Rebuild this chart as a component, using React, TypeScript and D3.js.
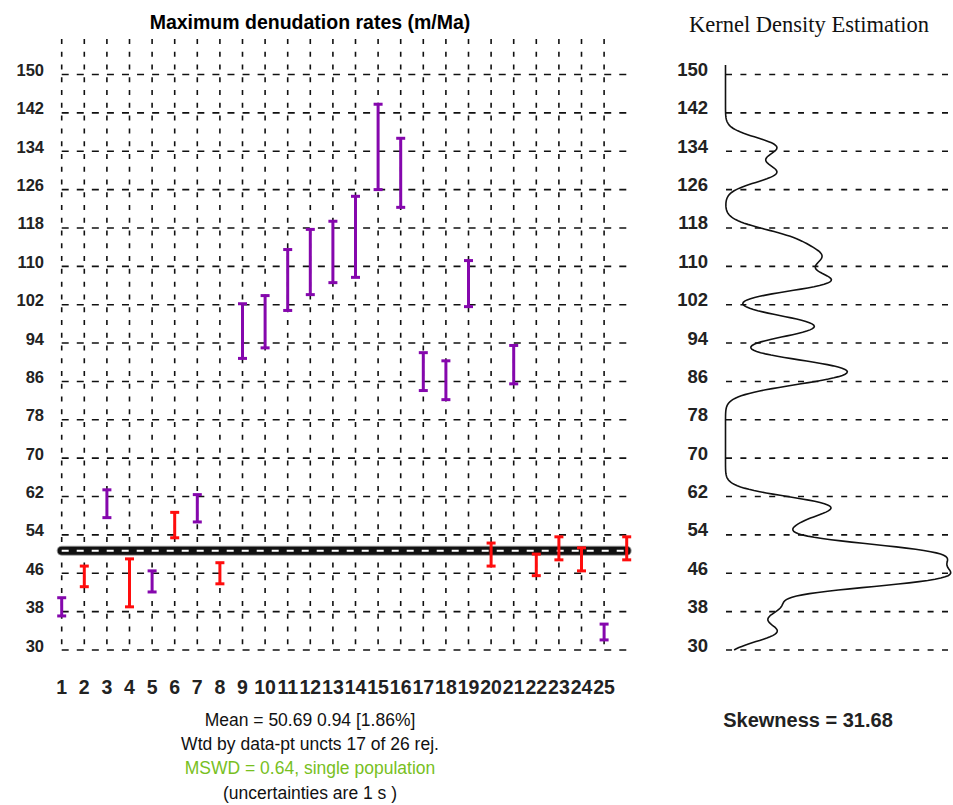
import React from "react";
import * as d3 from "d3";

// maximum denudation rates (m/Ma), centre and half-width of each bar
const rates = [
  39.0, 45.35, 60.5, 44.0, 44.3, 56.05, 59.55, 46.0, 96.5, 98.45, 107.15, 110.9, 113.0,
  116.15, 134.9, 129.5, 88.05, 86.25, 106.4, 49.9, 89.5, 47.75, 51.2, 48.9, 33.75, 51.2
];
const errors = [
  1.9, 2.15, 2.9, 5.0, 2.2, 2.65, 2.85, 2.2, 5.7, 5.45, 6.35, 6.8, 6.4,
  8.45, 8.9, 7.2, 3.95, 4.05, 4.8, 2.4, 4.0, 2.25, 2.4, 2.4, 1.65, 2.4
];
// rejected points are drawn purple, accepted ones red
const rejected = [
  true, false, true, false, true, false, true, false, true, true, true, true, true,
  true, true, true, true, true, true, false, true, false, false, false, true, false
];
const yTicks = [150, 142, 134, 126, 118, 110, 102, 94, 86, 78, 70, 62, 54, 46, 38, 30];
const xLabels = d3.range(1, 26);
const weightedMean = 50.69;
const statsLines = [
  "Mean = 50.69 0.94 [1.86%]",
  "Wtd by data-pt uncts 17 of 26 rej.",
  "MSWD = 0.64, single population",
  "(uncertainties are 1 s )"
];
const skewness = "Skewness = 31.68";
const bandwidth = 2.0;

const W = 953;
const H = 805;
const sans = "'Liberation Sans', Arial, sans-serif";
const purple = "#8507ad";
const red = "#ff0d0d";

export default function App() {
  const y = d3.scaleLinear().domain([30, 150]).range([650, 74.5]);
  const x = d3.scaleLinear().domain([1, 26]).range([61.7, 626.7]);

  // kernel density of the rates
  const kde = (v: number) =>
    d3.sum(rates, (r) => Math.exp(-((v - r) ** 2) / (2 * bandwidth * bandwidth)));
  const samples = d3.range(30, 152.01, 0.25);
  const xk = d3.scaleLinear().domain([0, 1]).range([725.5, 775.5]);
  const kdePath = d3
    .line<number>()
    .x((v) => xk(kde(v)))
    .y((v) => y(v))(samples);

  const mY = y(weightedMean);

  return (
    <svg
      width={W}
      height={H}
      style={{ position: "absolute", left: 0, top: 0, background: "white" }}
    >
      <rect width={W} height={H} fill="white" />

      {/* left panel title */}
      <text x={310} y={29} textAnchor="middle" fontFamily={sans} fontWeight="bold" fontSize={19.5}>
        Maximum denudation rates (m/Ma)
      </text>

      {/* grid */}
      <g stroke="#111" strokeWidth={1.6} fill="none">
        {yTicks.map((t) => (
          <line key={"h" + t} x1={x(1)} x2={x(26)} y1={y(t)} y2={y(t)} strokeDasharray="7,8.07" />
        ))}
        {xLabels.map((i) => (
          <line key={"v" + i} x1={x(i)} x2={x(i)} y1={39} y2={y(30)} strokeDasharray="5,7.77" />
        ))}
      </g>

      {/* y labels */}
      <g fontFamily={sans} fontWeight="bold" fontSize={16.5} fill="#222" textAnchor="end">
        {yTicks.map((t) => (
          <text key={"yl" + t} x={44} y={y(t) + 1.5}>
            {t}
          </text>
        ))}
      </g>

      {/* x labels */}
      <g fontFamily={sans} fontWeight="bold" fontSize={19.5} fill="#222" textAnchor="middle">
        {xLabels.map((i) => (
          <text key={"xl" + i} x={x(i)} y={694}>
            {i}
          </text>
        ))}
      </g>

      {/* weighted mean band */}
      <line x1={x(1)} x2={x(26)} y1={mY} y2={mY} stroke="#999" strokeWidth={10} strokeLinecap="round" />
      <line x1={x(1)} x2={x(26)} y1={mY} y2={mY} stroke="#111" strokeWidth={8} strokeLinecap="round" />
      <line x1={x(1)} x2={x(26)} y1={mY} y2={mY} stroke="#fff" strokeWidth={2} strokeDasharray="7,8" />

      {/* error bars */}
      <g strokeWidth={3} fill="none">
        {rates.map((r, i) => {
          const cx = x(i + 1);
          const top = y(r + errors[i]);
          const bot = y(r - errors[i]);
          const c = rejected[i] ? purple : red;
          return (
            <g key={"b" + i} stroke={c}>
              <line x1={cx} x2={cx} y1={top} y2={bot} />
              <line x1={cx - 4.5} x2={cx + 4.5} y1={top} y2={top} />
              <line x1={cx - 4.5} x2={cx + 4.5} y1={bot} y2={bot} />
            </g>
          );
        })}
      </g>

      {/* stats text */}
      <g fontFamily={sans} fontSize={17.5} textAnchor="middle" fill="#111">
        {statsLines.map((s, i) => (
          <text key={"s" + i} x={310} y={726 + i * 24.2} fill={i === 2 ? "#78c01e" : "#111"}>
            {s}
          </text>
        ))}
      </g>

      {/* KDE panel */}
      <text
        x={809}
        y={32}
        textAnchor="middle"
        fontFamily="'Liberation Serif', 'Times New Roman', serif"
        fontSize={22.5}
        fill="#111"
      >
        Kernel Density Estimation
      </text>
      <g stroke="#111" strokeWidth={1.6}>
        {yTicks.map((t) => (
          <line key={"kh" + t} x1={726} x2={W} y1={y(t)} y2={y(t)} strokeDasharray="6,8.4" />
        ))}
      </g>
      <g fontFamily={sans} fontWeight="bold" fontSize={18.5} fill="#222" textAnchor="end">
        {yTicks.map((t) => (
          <text key={"kl" + t} x={708} y={y(t) + 1.5}>
            {t}
          </text>
        ))}
      </g>
      <path d={kdePath ?? ""} fill="none" stroke="#111" strokeWidth={1.6} />
      <text x={808} y={727} textAnchor="middle" fontFamily={sans} fontWeight="bold" fontSize={20} fill="#222">
        {skewness}
      </text>
    </svg>
  );
}
